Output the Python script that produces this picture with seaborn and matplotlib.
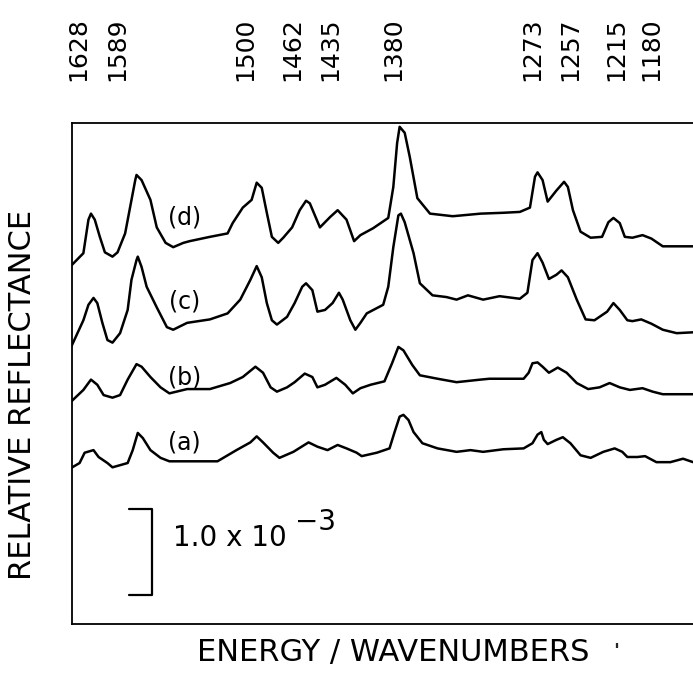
import matplotlib
matplotlib.use("Agg")
import matplotlib.pyplot as plt
import seaborn as sns
import pandas as pd

# ---------------- data (wavenumber in cm^-1, relative reflectance in units of 1e-3) -------------
wn_d = [1644, 1634, 1630, 1628, 1625, 1621, 1617, 1611, 1607, 1601, 1597, 1593, 1592, 1588, 1581,
        1576, 1569, 1563, 1555, 1550, 1534, 1520, 1516, 1508, 1501, 1497, 1493, 1489, 1485, 1480,
        1476, 1469, 1463, 1458, 1455, 1447, 1439, 1433, 1426, 1420, 1415, 1405, 1393, 1389, 1386,
        1384, 1380, 1376, 1370, 1360, 1342, 1320, 1302, 1289, 1281, 1277, 1275, 1271, 1267, 1260,
        1254, 1251, 1247, 1241, 1233, 1224, 1219, 1215, 1210, 1206, 1200, 1192, 1185, 1176, 1152]
r_d = [4.15, 4.30, 4.69, 4.76, 4.69, 4.49, 4.31, 4.26, 4.31, 4.53, 4.84, 5.15, 5.21, 5.15, 4.92,
       4.60, 4.42, 4.37, 4.42, 4.44, 4.49, 4.53, 4.65, 4.83, 4.92, 5.12, 5.06, 4.77, 4.49, 4.42,
       4.48, 4.60, 4.80, 4.91, 4.88, 4.60, 4.72, 4.80, 4.69, 4.44, 4.51, 4.59, 4.71, 5.07, 5.58,
       5.77, 5.70, 5.42, 4.94, 4.76, 4.73, 4.76, 4.77, 4.78, 4.83, 5.19, 5.24, 5.15, 4.90, 5.03,
       5.13, 5.07, 4.80, 4.55, 4.48, 4.49, 4.66, 4.71, 4.65, 4.49, 4.48, 4.51, 4.47, 4.38, 4.38]

wn_c = [1644, 1634, 1630, 1626, 1623, 1619, 1615, 1611, 1605, 1599, 1596, 1592, 1591, 1588, 1584,
        1576, 1568, 1563, 1552, 1534, 1520, 1510, 1502, 1497, 1493, 1489, 1485, 1481, 1473, 1467,
        1461, 1458, 1453, 1449, 1443, 1437, 1432, 1429, 1423, 1419, 1415, 1410, 1397, 1393, 1389,
        1385, 1383, 1380, 1373, 1368, 1358, 1347, 1339, 1330, 1318, 1305, 1289, 1283, 1279, 1275,
        1271, 1266, 1260, 1256, 1251, 1244, 1237, 1230, 1220, 1215, 1210, 1204, 1200, 1193, 1185,
        1176, 1165, 1152]
r_c = [3.20, 3.52, 3.70, 3.78, 3.72, 3.49, 3.29, 3.26, 3.37, 3.64, 3.99, 4.22, 4.26, 4.14, 3.91,
       3.67, 3.44, 3.41, 3.49, 3.53, 3.60, 3.76, 3.99, 4.15, 4.02, 3.72, 3.52, 3.47, 3.56, 3.72,
       3.91, 3.95, 3.87, 3.62, 3.64, 3.72, 3.84, 3.76, 3.52, 3.41, 3.49, 3.60, 3.70, 3.91, 4.37,
       4.74, 4.76, 4.66, 4.30, 3.95, 3.81, 3.79, 3.76, 3.81, 3.76, 3.80, 3.77, 3.84, 4.22, 4.30,
       4.19, 4.00, 4.05, 4.10, 4.02, 3.76, 3.53, 3.52, 3.62, 3.72, 3.64, 3.52, 3.51, 3.53, 3.48,
       3.41, 3.37, 3.38]

wn_b = [1644, 1634, 1628, 1623, 1618, 1611, 1605, 1599, 1592, 1588, 1581, 1573, 1566, 1552, 1534,
        1518, 1508, 1498, 1492, 1486, 1481, 1473, 1467, 1459, 1453, 1449, 1443, 1434, 1427, 1421,
        1415, 1407, 1396, 1390, 1385, 1381, 1374, 1368, 1354, 1339, 1320, 1313, 1286, 1282, 1279,
        1275, 1271, 1266, 1259, 1252, 1244, 1235, 1226, 1218, 1210, 1202, 1192, 1184, 1176, 1152]
r_b = [2.57, 2.71, 2.83, 2.77, 2.65, 2.62, 2.65, 2.83, 3.01, 2.98, 2.86, 2.74, 2.67, 2.72, 2.72,
       2.79, 2.86, 2.98, 2.91, 2.74, 2.69, 2.74, 2.80, 2.90, 2.86, 2.74, 2.77, 2.85, 2.77, 2.67,
       2.73, 2.77, 2.81, 3.02, 3.21, 3.17, 3.00, 2.88, 2.84, 2.80, 2.83, 2.84, 2.84, 2.91, 3.02,
       3.03, 2.98, 2.91, 2.97, 2.91, 2.79, 2.72, 2.74, 2.79, 2.74, 2.71, 2.73, 2.69, 2.66, 2.66]

wn_a = [1644, 1637, 1633, 1626, 1622, 1615, 1611, 1599, 1595, 1591, 1587, 1581, 1573, 1566, 1528,
        1513, 1502, 1497, 1492, 1484, 1479, 1468, 1456, 1449, 1441, 1433, 1426, 1418, 1414, 1402,
        1392, 1388, 1384, 1381, 1377, 1373, 1366, 1354, 1339, 1328, 1318, 1302, 1286, 1279, 1275,
        1272, 1270, 1267, 1260, 1255, 1249, 1241, 1233, 1223, 1214, 1208, 1204, 1196, 1190, 1181,
        1170, 1160, 1152]
r_a = [1.80, 1.86, 1.98, 2.01, 1.93, 1.86, 1.81, 1.86, 2.01, 2.21, 2.15, 2.01, 1.92, 1.88, 1.88,
       2.01, 2.10, 2.17, 2.10, 1.98, 1.92, 1.99, 2.10, 2.05, 2.01, 2.07, 2.03, 1.98, 1.94, 1.98,
       2.03, 2.22, 2.40, 2.42, 2.36, 2.22, 2.09, 2.03, 1.99, 2.01, 1.99, 2.02, 2.03, 2.09, 2.19,
       2.22, 2.13, 2.08, 2.13, 2.16, 2.09, 1.95, 1.92, 1.99, 2.03, 1.99, 1.93, 1.93, 1.94, 1.87,
       1.87, 1.91, 1.87]

# peak labels along the top, and where they are printed (cm^-1)
peak_labels = ["1628", "1589", "1500", "1462", "1435", "1380", "1273", "1257", "1215", "1180"]
peak_label_pos = [1638, 1607, 1506, 1469, 1439, 1389, 1279, 1249, 1213, 1185]

# curve tags
curve_tags = ["(a)", "(b)", "(c)", "(d)"]
curve_tag_wn = [1554, 1554, 1554, 1554]
curve_tag_r = [2.10, 2.85, 3.74, 4.72]

# scale bar: 1.0 x 10^-3
scale_len = 1.0
scale_base = 0.33
scale_wn = 1580
scale_tick_wn = 1598
scale_text_wn = 1563
x_limits = (1643.0, 1152.1)
y_limits = (-0.012, 5.814)

# ---------------- build tidy frame ----------------
frames = []
for name, w, r in [("a", wn_a, r_a), ("b", wn_b, r_b), ("c", wn_c, r_c), ("d", wn_d, r_d)]:
    frames.append(pd.DataFrame({"wn": w, "r": r, "trace": name}))
df = pd.concat(frames, ignore_index=True)

sns.set_theme(style="white")
plt.rcParams['font.family'] = ['DejaVu Sans']

W, H = 693, 673
fig = plt.figure(figsize=(W / 100, H / 100), dpi=100)
ax = fig.add_axes([72 / W, 49 / H, 621 / W, 501 / H])

sns.lineplot(data=df, x="wn", y="r", units="trace", estimator=None, sort=False,
             color="black", linewidth=1.8, ax=ax)
for ln in ax.get_lines():
    ln.set_solid_joinstyle("round")
    ln.set_solid_capstyle("round")

ax.set_xlim(*x_limits)
ax.set_ylim(*y_limits)

# frame: left, top, bottom
for side in ["left", "top", "bottom"]:
    ax.spines[side].set_visible(True)
    ax.spines[side].set_color("black")
    ax.spines[side].set_linewidth(1.3)
ax.spines["right"].set_visible(False)

# top labels
ax.set_xticks(peak_label_pos)
ax.set_xticklabels(peak_labels, rotation=90, fontsize=18)
ax.xaxis.tick_top()
ax.tick_params(axis="x", length=0, pad=30, colors="black")
ax.set_yticks([])

# axis titles
ax.set_xlabel("ENERGY / WAVENUMBERS", fontsize=22, color="black")
ax.xaxis.set_label_position("bottom")
ax.xaxis.label.set_va("center")
ax.xaxis.set_label_coords(0.517, -0.056)
ax.set_ylabel("RELATIVE REFLECTANCE", fontsize=22, color="black")
ax.yaxis.label.set_va("center")
ax.yaxis.set_label_coords(-0.08, 0.457)

# curve tags
for tag, xw, yr in zip(curve_tags, curve_tag_wn, curve_tag_r):
    ax.text(xw, yr, tag, fontsize=17, ha="center", va="center", color="black")

# scale bar
ax.plot([scale_tick_wn, scale_wn, scale_wn, scale_tick_wn],
        [scale_base + scale_len, scale_base + scale_len, scale_base, scale_base],
        color="black", linewidth=1.6)
t = ax.text(scale_text_wn, scale_base + 0.66, "1.0 x 10", fontsize=20, ha="left", va="center",
            color="black")
ax.annotate("\u22123", xy=(1, 0.55), xycoords=t, xytext=(6, 0), textcoords="offset points",
            fontsize=20, ha="left", va="bottom", color="black")

# small stray mark near the axis title
fig.text(616 / W, 1 - 652 / H, "'", fontsize=14, fontweight="bold", ha="center", va="center")

fig.savefig("out.png", dpi=100)
